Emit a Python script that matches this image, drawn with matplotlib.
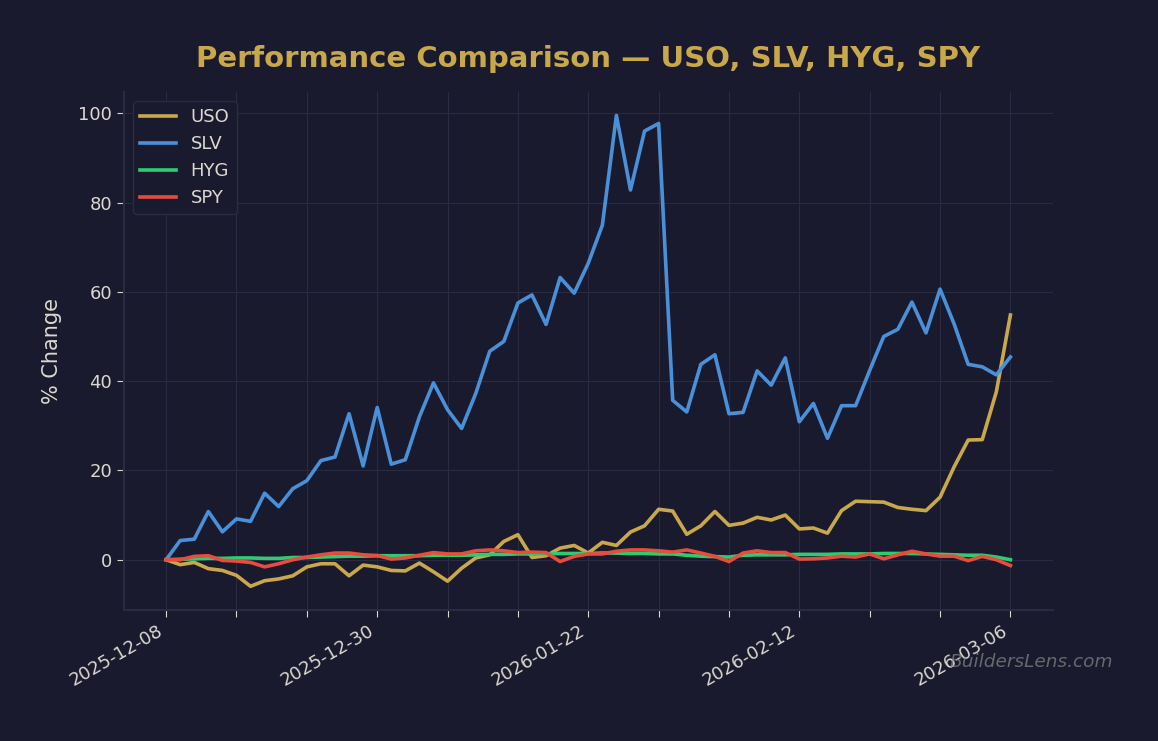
import numpy as np
import pandas as pd
import matplotlib
matplotlib.use("Agg")
import matplotlib.pyplot as plt

# trading days 2025-12-08 .. 2026-03-06
holidays = ["2025-12-25", "2026-01-01", "2026-01-19", "2026-02-16"]
dates = [d for d in pd.bdate_range("2025-12-08", "2026-03-06") if d.strftime("%Y-%m-%d") not in holidays]
date_labels = [d.strftime("%Y-%m-%d") for d in dates]

uso = [0, -1.1, -0.6, -2.0, -2.4, -3.5, -5.95, -4.7, -4.3, -3.6,
       -1.6, -0.9, -0.9, -3.6, -1.2, -1.6, -2.4, -2.5, -0.75, -2.7,
       -4.8, -1.9, 0.4, 1.1, 4.1, 5.6, 0.5, 0.9, 2.6, 3.2,
       1.5, 3.9, 3.2, 6.2, 7.6, 11.3, 10.9, 5.7, 7.6, 10.8,
       7.7, 8.2, 9.5, 8.9, 10.0, 6.9, 7.1, 5.95, 11.0, 13.1,
       13.0, 12.9, 11.7, 11.3, 11.0, 14.0, 20.8, 26.8, 26.9, 37.6,
       54.8]
slv = [0, 4.3, 4.6, 10.8, 6.25, 9.15, 8.6, 14.9, 11.9, 15.9,
       17.7, 22.2, 23.0, 32.7, 21.0, 34.1, 21.4, 22.4, 32.0, 39.6,
       33.6, 29.4, 37.2, 46.7, 48.9, 57.5, 59.3, 52.7, 63.2, 59.7,
       66.4, 74.9, 99.5, 82.8, 96.0, 97.7, 35.7, 33.1, 43.75, 45.9,
       32.7, 33.0, 42.3, 39.1, 45.2, 30.9, 35.0, 27.2, 34.5, 34.5,
       42.4, 50.0, 51.6, 57.7, 50.8, 60.6, 52.8, 43.75, 43.2, 41.4,
       45.4]
hyg = [0, 0.1, 0.2, 0.3, 0.3, 0.4, 0.4, 0.3, 0.3, 0.5,
       0.5, 0.6, 0.7, 0.8, 0.8, 0.9, 0.9, 0.9, 0.9, 1.0,
       1.0, 1.0, 1.1, 1.2, 1.2, 1.3, 1.3, 1.3, 1.4, 1.4,
       1.4, 1.5, 1.5, 1.4, 1.4, 1.3, 1.3, 1.0, 0.8, 0.7,
       0.6, 1.0, 1.1, 1.1, 1.1, 1.2, 1.2, 1.2, 1.3, 1.3,
       1.3, 1.4, 1.4, 1.4, 1.3, 1.2, 1.1, 1.0, 1.0, 0.6,
       0.0]
spy = [0, 0, 0.75, 0.9, -0.15, -0.3, -0.6, -1.6, -0.9, 0,
       0.6, 1.1, 1.5, 1.5, 1.1, 0.95, 0.15, 0.4, 1.0, 1.6,
       1.3, 1.3, 2.0, 2.2, 2.0, 1.6, 1.7, 1.6, -0.4, 0.75,
       1.3, 1.3, 1.9, 2.2, 2.2, 2.0, 1.7, 2.2, 1.5, 0.75,
       -0.4, 1.5, 2.0, 1.6, 1.6, 0.15, 0.2, 0.4, 0.8, 0.6,
       1.3, 0.2, 1.1, 1.9, 1.3, 0.8, 0.8, -0.2, 0.75, 0,
       -1.3]

tickers = ["USO", "SLV", "HYG", "SPY"]
colors = ["#c9a84c", "#4a90d9", "#2ecc71", "#e74c3c"]

bg = "#1a1a2e"
text_c = "#dcd8d0"
grid_c = "#2a2a40"

fig, ax = plt.subplots(figsize=(11.58, 7.41), dpi=100)
fig.patch.set_facecolor(bg)
ax.set_facecolor(bg)
fig.subplots_adjust(left=0.107, right=0.909, top=0.876, bottom=0.177)

x = np.arange(len(dates))
for name, vals, c in zip(tickers, [uso, slv, hyg, spy], colors):
    ax.plot(x, vals, color=c, lw=2.6, label=name)

ax.set_xticks(x[::5])
ax.set_xticklabels([date_labels[i] if i % 15 == 0 else "" for i in x[::5]],
                   rotation=30, ha="right")
ax.tick_params(colors=text_c, labelsize=13, length=5)
ax.grid(True, color=grid_c, lw=0.8)
for s in ["top", "right"]:
    ax.spines[s].set_visible(False)
for s in ["left", "bottom"]:
    ax.spines[s].set_color(grid_c)
    ax.spines[s].set_linewidth(1.5)

ax.set_ylabel("% Change", color=text_c, fontsize=15, labelpad=12)
ax.set_title("Performance Comparison — USO, SLV, HYG, SPY", color="#c9a84c",
             fontsize=21, fontweight="bold", pad=18)

leg = ax.legend(loc="upper left", fontsize=13, facecolor=bg, edgecolor=grid_c,
                framealpha=1)
for t in leg.get_texts():
    t.set_color(text_c)

fig.text(0.961, 0.107, "BuildersLens.com", color="#888888", alpha=0.7,
         fontsize=13.3, style="italic", ha="right", va="center")

fig.savefig("out.png", facecolor=bg)
